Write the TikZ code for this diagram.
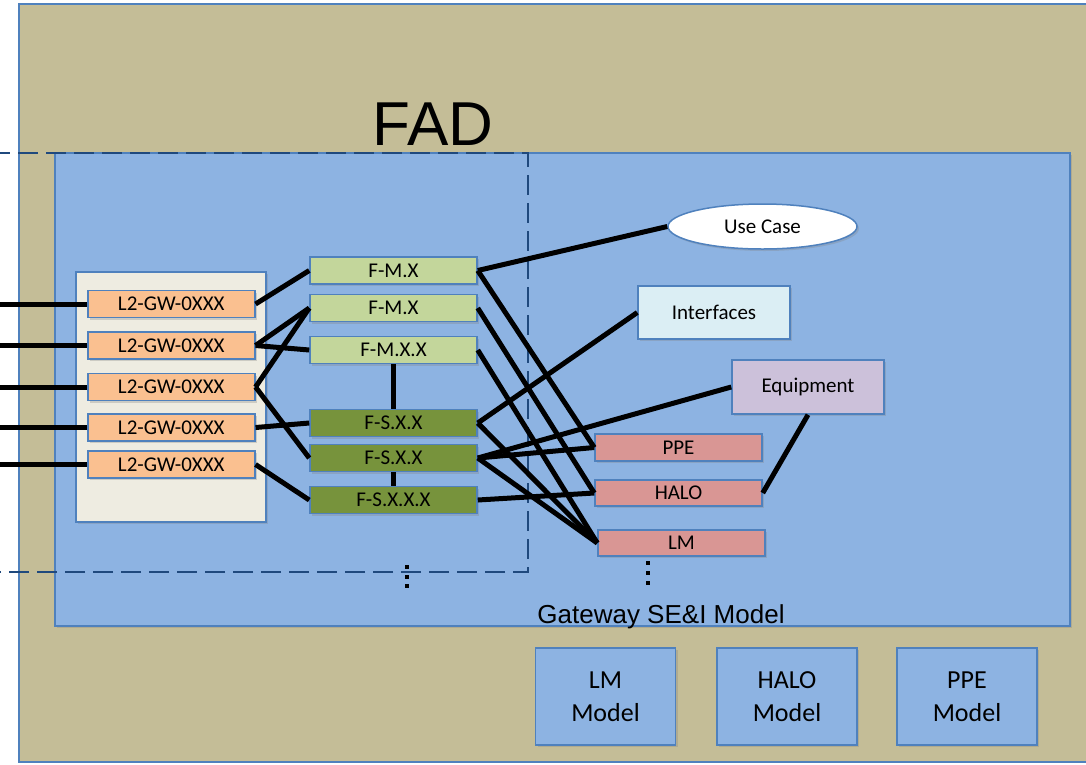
\documentclass[tikz,border=0pt]{standalone}
\usepackage{fontspec}
\setmainfont{Carlito}
\newfontfamily\arialfont{Liberation Sans}
\usetikzlibrary{shapes,shadows,positioning}
\definecolor{fadtan}{HTML}{C4BD97}
\definecolor{gwblue}{HTML}{8DB3E2}
\definecolor{edgeblue}{HTML}{4F81BD}
\definecolor{dashblue}{HTML}{1F497D}
\definecolor{panelcream}{HTML}{EEECE1}
\definecolor{reqorange}{HTML}{FAC090}
\definecolor{fmgreen}{HTML}{C3D69B}
\definecolor{fsgreen}{HTML}{77933C}
\definecolor{ifcyan}{HTML}{DBEEF4}
\definecolor{eqlilac}{HTML}{CCC1DA}
\definecolor{hwpink}{HTML}{D99694}
\tikzstyle{link}=[draw,black,line width=5pt]
\tikzstyle{shade}=[drop shadow={shadow xshift=2pt,shadow yshift=-2pt,opacity=0.3}]
\tikzstyle{box} =
  [rectangle, draw=edgeblue, line width=1.5pt, inner sep=0pt, shade,
   minimum width=167pt, minimum height=27pt, font=\fontsize{21}{25}\selectfont]
\tikzstyle{reqbox}=[box, fill=reqorange]
\tikzstyle{fmbox}=[box, fill=fmgreen]
\tikzstyle{fsbox}=[box, fill=fsgreen]
\tikzstyle{hwbox}=[box, fill=hwpink]
\tikzstyle{infobox}=[box, minimum width=152pt, minimum height=53pt]
\tikzstyle{cloud} =
  [ellipse, draw=edgeblue, line width=1.5pt, fill=white, shade, inner sep=0pt,
   minimum width=189pt, minimum height=45pt, font=\fontsize{21}{25}\selectfont]
\tikzstyle{model} =
  [rectangle, draw=edgeblue, line width=1.5pt, fill=gwblue, shade, align=center,
   minimum width=140pt, minimum height=97pt, font=\fontsize{26}{33}\selectfont]
\begin{document}
\begin{tikzpicture}[x=1pt, y=-1pt]
  \useasboundingbox (0,0) rectangle (1086,764);
  \fill [white] (0,0) rectangle (1086,764);
  \draw [fill=fadtan, draw=edgeblue, line width=1.5pt] (19,4) rectangle (1110,762);
  \draw [fill=gwblue, draw=edgeblue, line width=1.5pt, shade] (55,153) rectangle (1070,626);
  \draw [dashblue, line width=2.5pt, dash pattern=on 20pt off 8pt]
    (-10,153) -- (528,153) -- (528,572) -- (-10,572);
  \node [anchor=base] (fad) at (433,145) {\arialfont\fontsize{62}{62}\selectfont FAD};
  \node [anchor=base] (gwlabel) at (661,623) {\arialfont\fontsize{26}{26}\selectfont Gateway SE\&I Model};

  \node [rectangle, draw=edgeblue, line width=1.5pt, fill=panelcream, shade,
    minimum width=190pt, minimum height=250pt] (panel) at (171,397) {};
  \node [reqbox] (r1) at (171.3,304) {L2-GW-0XXX};
  \node [reqbox] (r2) at (171.3,345.5) {L2-GW-0XXX};
  \node [reqbox] (r3) at (171.3,387) {L2-GW-0XXX};
  \node [reqbox] (r4) at (171.3,427.5) {L2-GW-0XXX};
  \node [reqbox] (r5) at (171.3,464.5) {L2-GW-0XXX};

  \node [fmbox] (m1) at (393.5,270.5) {F-M.X};
  \node [fmbox] (m2) at (393.5,308) {F-M.X};
  \node [fmbox] (m3) at (393.5,350) {F-M.X.X};
  \node [fsbox] (s1) at (393.5,423) {F-S.X.X};
  \node [fsbox] (s2) at (393.5,458) {F-S.X.X};
  \node [fsbox] (s3) at (393.5,500) {F-S.X.X.X};

  \node [cloud] (uc) at (762.5,226.5) {Use Case};
  \node [infobox, fill=ifcyan] (ifc) at (714,312.5) {Interfaces};
  \node [infobox, fill=eqlilac, minimum height=54pt] (eq) at (808,387) {Equipment};
  \node [hwbox] (ppe) at (678.5,447.5) {PPE};
  \node [hwbox, minimum height=26pt] (halo) at (678.5,493) {HALO};
  \node [hwbox, minimum height=26pt] (lm) at (681.5,543) {LM};

  \node [model] (lmm) at (605.5,696.5) {LM\\Model};
  \node [model] (halom) at (787,696.5) {HALO\\Model};
  \node [model] (ppem) at (967,696.5) {PPE\\Model};

  % incoming requirements
  \coordinate (in1) at (0,304);
  \coordinate (in2) at (0,345.5);
  \coordinate (in3) at (0,387);
  \coordinate (in4) at (0,427.5);
  \coordinate (in5) at (0,464.5);
  \draw [link] (in1) -- (r1.west);
  \draw [link] (in2) -- (r2.west);
  \draw [link] (in3) -- (r3.west);
  \draw [link] (in4) -- (r4.west);
  \draw [link] (in5) -- (r5.west);

  \draw [link] (r1.east) -- (m1.west);
  \draw [link] (r2.east) -- (m2.west);
  \draw [link] (r2.east) -- (m3.west);
  \draw [link] (r3.east) -- (m2.west);
  \draw [link] (r3.east) -- (s2.west);
  \draw [link] (r4.east) -- (s1.west);
  \draw [link] (r5.east) -- (s3.west);
  \draw [link] (m3.south) -- (s1.north);
  \draw [link] (s2.south) -- (s3.north);

  \draw [link] (m1.east) -- (uc.west);
  \draw [link] (m1.east) -- (ppe.west);
  \draw [link] (m2.east) -- (halo.west);
  \draw [link] (m3.east) -- (lm.west);
  \draw [link] (s1.east) -- (ifc.west);
  \draw [link] (s1.east) -- (lm.west);
  \draw [link] (s2.east) -- (eq.west);
  \draw [link] (s2.east) -- (ppe.west);
  \draw [link] (s2.east) -- (lm.west);
  \draw [link] (s3.east) -- (halo.west);
  \draw [link] (halo.east) -- (eq.south);

  % more to come
  \foreach \y in {567,577,586} \fill (405,\y-2) rectangle (409,\y+2);
  \foreach \y in {563,573,583} \fill (646,\y-2) rectangle (650,\y+2);
\end{tikzpicture}
\end{document}
